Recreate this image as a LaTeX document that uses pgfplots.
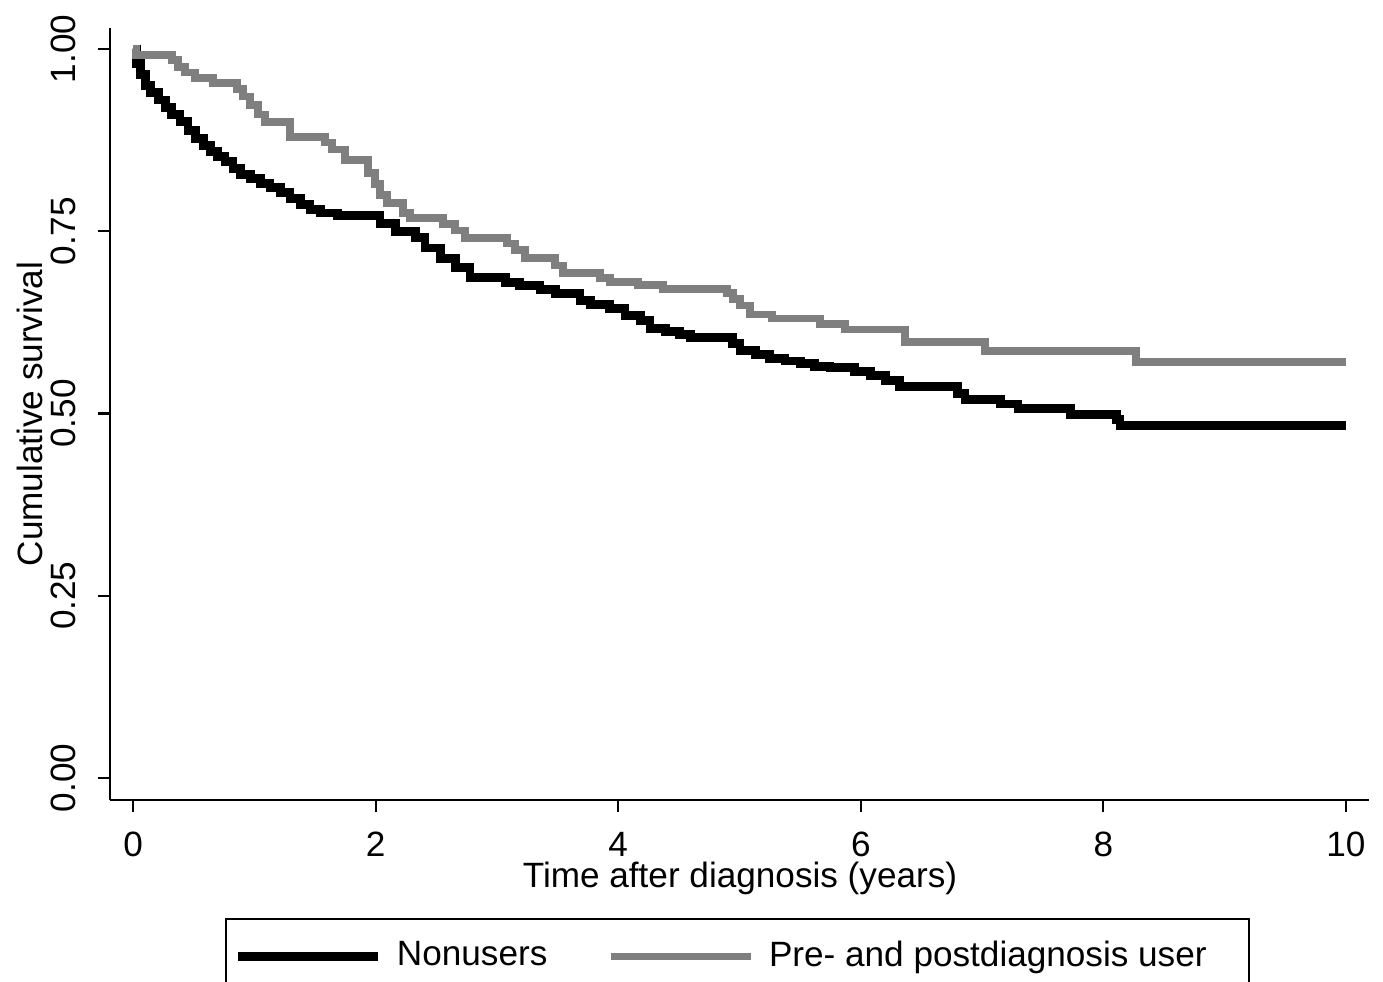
\documentclass[border=0pt]{standalone}
\usepackage{fontspec}
\setmainfont{Liberation Sans}
\usepackage{pgfplots}
\pgfplotsset{compat=1.18}
\definecolor{kmgray}{HTML}{7F7F7F}

% Kaplan-Meier steps (years, survival)
\pgfplotstableread{
t     s
0     1.000
0.025 0.980
0.058 0.965
0.099 0.950
0.140 0.940
0.206 0.930
0.264 0.920
0.320 0.910
0.387 0.900
0.453 0.888
0.511 0.877
0.577 0.868
0.635 0.860
0.700 0.852
0.758 0.845
0.824 0.836
0.882 0.828
0.965 0.822
1.047 0.816
1.129 0.810
1.212 0.803
1.294 0.795
1.377 0.787
1.459 0.780
1.542 0.775
1.682 0.771
2.036 0.760
2.160 0.750
2.325 0.741
2.407 0.727
2.531 0.713
2.655 0.700
2.778 0.687
3.067 0.680
3.190 0.675
3.355 0.670
3.479 0.664
3.685 0.655
3.768 0.650
3.932 0.644
4.056 0.635
4.180 0.628
4.262 0.617
4.386 0.613
4.509 0.608
4.592 0.604
4.946 0.596
5.004 0.587
5.128 0.581
5.251 0.576
5.375 0.572
5.499 0.568
5.622 0.565
5.746 0.563
5.952 0.558
6.076 0.552
6.200 0.545
6.323 0.537
6.801 0.528
6.859 0.519
7.148 0.513
7.296 0.507
7.725 0.499
8.112 0.492
8.137 0.484
10.00 0.484
}\nonusers

\pgfplotstableread{
t     s
0     1.000
0.025 0.992
0.320 0.985
0.371 0.975
0.429 0.968
0.511 0.960
0.660 0.953
0.857 0.945
0.907 0.935
0.965 0.923
1.030 0.910
1.088 0.900
1.294 0.879
1.583 0.872
1.641 0.862
1.748 0.848
1.937 0.830
1.995 0.815
2.036 0.800
2.094 0.789
2.226 0.775
2.284 0.768
2.556 0.760
2.655 0.751
2.737 0.741
3.083 0.733
3.149 0.724
3.232 0.713
3.479 0.703
3.545 0.693
3.850 0.686
3.932 0.680
4.163 0.676
4.369 0.671
4.897 0.665
4.946 0.657
5.004 0.648
5.087 0.636
5.268 0.630
5.664 0.623
5.870 0.615
6.364 0.598
7.024 0.586
8.269 0.571
10.00 0.571
}\users

\begin{document}
\begin{tikzpicture}[font=\fontsize{10}{12}\selectfont]
\useasboundingbox (-1.10,-1.82) rectangle (12.73,8.00);
\clip (-1.10,-1.82) rectangle (12.73,8.00);
\begin{axis}[
  scale only axis, width=12.59cm, height=7.72cm,
  xmin=-0.19, xmax=10.19, ymin=-0.0302, ymax=1.0288,
  axis lines=left, axis line style={-, line width=0.6pt},
  tick align=outside, major tick length=0.12cm,
  every tick/.style={black, line width=0.6pt},
  xtick={0,2,...,10}, ytick={0,0.25,0.5,0.75,1},
  /pgf/number format/assume math mode=true,
  tick label style={font=\fontsize{10}{12}\selectfont},
  xticklabel shift=0.08cm, yticklabel shift=0.1cm,
  yticklabel style={rotate=90, anchor=south, /pgf/number format/fixed,
    /pgf/number format/fixed zerofill, /pgf/number format/precision=2},
  xlabel={Time after diagnosis (years)},
  ylabel={Cumulative survival},
  xlabel style={at={(axis description cs:0.5004,-0.102)}, anchor=center},
  ylabel style={at={(axis description cs:-0.0635,0.5)}, anchor=center},
  legend columns=2,
  legend image code/.code={\draw[#1] (0cm,0cm) -- (1.4cm,0cm);},
  legend style={at={(axis description cs:0.0913,-0.1528)}, anchor=north west,
    draw=black, line width=0.6pt, inner xsep=0.08cm, inner ysep=0.15cm,
    font=\fontsize{10}{12}\selectfont,
    /tikz/every odd column/.append style={column sep=0.07cm},
    /tikz/every even column/.append style={column sep=0.53cm}},
]
\addplot[const plot, black, line width=2.55pt] table[x=t, y=s] {\nonusers};
\addlegendentry{Nonusers}
\addplot[const plot, kmgray, line width=2.15pt] table[x=t, y=s] {\users};
\addlegendentry{Pre- and postdiagnosis user\hspace*{0.27cm}}
\end{axis}
\end{tikzpicture}
\end{document}
